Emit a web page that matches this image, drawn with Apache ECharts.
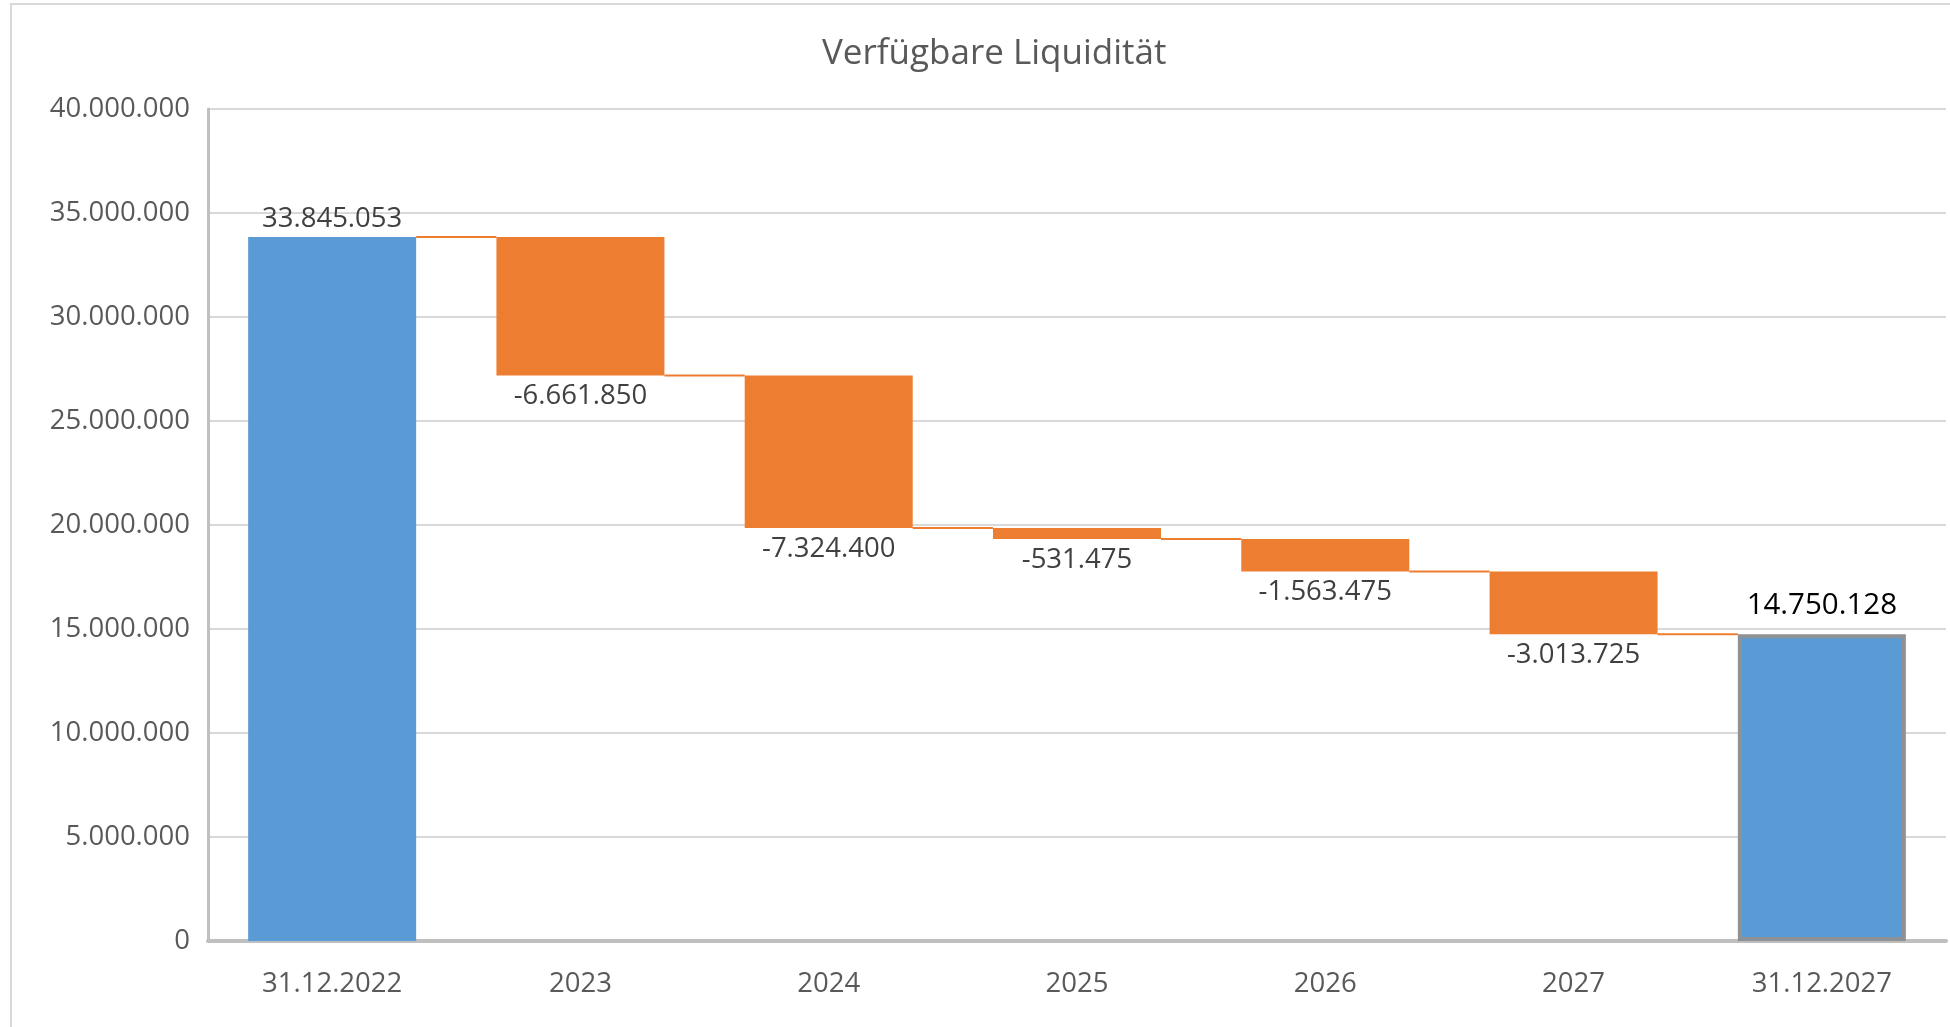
<!DOCTYPE html>
<html>
<head>
<meta charset="utf-8">
<script src="https://cdn.jsdelivr.net/npm/echarts@6/dist/echarts.min.js"></script>
<style>
  html, body { margin: 0; padding: 0; background: #fff; }
  #chart { width: 1950px; height: 1027px; }
</style>
</head>
<body>
<div id="chart"></div>
<script>
const categories = ['31.12.2022', '2023', '2024', '2025', '2026', '2027', '31.12.2027'];
// totals are start/end balances, the rest are yearly changes
const isTotal = [true, false, false, false, false, false, true];
const amounts = [33845053, -6661850, -7324400, -531475, -1563475, -3013725, 14750128];
const yTicks = { min: 0, max: 40000000, interval: 5000000 };

const BLUE = '#5b9bd5', ORANGE = '#ed7d31';
const BAR_W = 168;

function fmt(n) {
  const s = String(Math.abs(n)).replace(/\B(?=(\d{3})+(?!\d))/g, '.');
  return (n < 0 ? '-' : '') + s;
}

// build the waterfall: invisible base + visible part
let running = 0;
const baseData = [], barData = [], levels = [];
amounts.forEach((v, i) => {
  if (isTotal[i]) {
    running = v;
    baseData.push(0);
    barData.push({
      value: v,
      itemStyle: i === amounts.length - 1
        ? { color: BLUE, borderColor: '#8e9196', borderWidth: 4 }
        : { color: BLUE },
      label: i === amounts.length - 1
        ? { position: 'top', distance: 14, color: '#000', fontSize: 29.5 }
        : { position: 'top', distance: 4 }
    });
  } else {
    const end = running + v;
    baseData.push(Math.min(running, end));
    barData.push({ value: Math.abs(v), itemStyle: { color: ORANGE }, label: { position: 'bottom', distance: 7 } });
    running = end;
  }
  levels.push(running);
});
const connectors = levels.slice(0, -1).map((lv, i) => [i, lv]);

const chart = echarts.init(document.getElementById('chart'));
chart.setOption({
  animation: false,
  textStyle: { fontFamily: 'Open Sans' },
  title: {
    text: 'Verfügbare Liquidität',
    left: 817, top: 32,
    textStyle: { fontSize: 35, fontWeight: 'normal', color: '#595959', fontFamily: 'Open Sans' }
  },
  graphic: [{
    type: 'rect', silent: true,
    shape: { x: 11, y: 4, width: 2000, height: 2000 },
    style: { fill: null, stroke: '#d9d9d9', lineWidth: 2 }
  }],
  grid: { left: 208, right: 4, top: 109, bottom: 86 },
  xAxis: {
    type: 'category',
    data: categories,
    axisTick: { show: false },
    axisLine: { lineStyle: { color: '#bfbfbf', width: 4 } },
    axisLabel: { color: '#595959', fontSize: 27.5, margin: 29 }
  },
  yAxis: {
    type: 'value',
    min: yTicks.min, max: yTicks.max, interval: yTicks.interval,
    axisLine: { show: true, lineStyle: { color: '#bfbfbf', width: 3 } },
    axisTick: { show: false },
    splitLine: { lineStyle: { color: '#d9d9d9', width: 2 } },
    axisLabel: { color: '#595959', fontSize: 27.5, margin: 18, padding: [14, 0, 0, 0], formatter: v => fmt(v) }
  },
  series: [
    {
      name: 'base', type: 'bar', stack: 'wf', barWidth: BAR_W,
      itemStyle: { color: 'transparent' },
      data: baseData, silent: true
    },
    {
      name: 'value', type: 'bar', stack: 'wf', barWidth: BAR_W,
      data: barData,
      label: {
        show: true, fontSize: 27.5, color: '#404040',
        formatter: p => fmt(amounts[p.dataIndex])
      }
    },
    {
      name: 'connector', type: 'custom', z: 1,
      encode: { x: 0, y: 1 },
      data: connectors,
      renderItem: (params, api) => {
        const p = api.coord([api.value(0), api.value(1)]);
        const w = api.size([1, 0])[0];
        return {
          type: 'line',
          shape: { x1: p[0] + BAR_W / 2, y1: p[1], x2: p[0] + w - BAR_W / 2, y2: p[1] },
          style: { stroke: ORANGE, lineWidth: 2 }
        };
      }
    }
  ]
});
window.addEventListener('resize', () => chart.resize());
</script>
</body>
</html>
